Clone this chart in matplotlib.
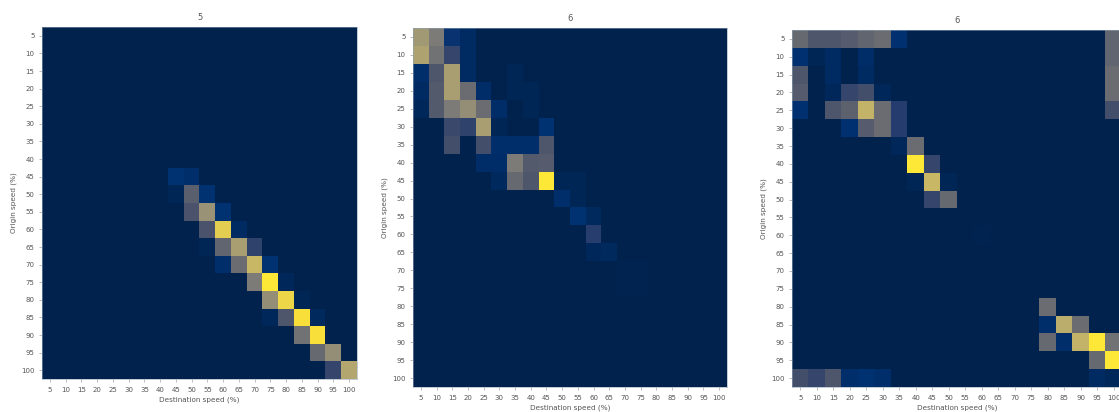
import matplotlib
matplotlib.use("Agg")
import matplotlib.pyplot as plt
import numpy as np

speed_labels = [str(v) for v in [5, 10, 15, 20, 25, 30, 35, 40, 45, 50, 55, 60, 65, 70, 75, 80, 85, 90, 95, 100]]
panel_titles = ["5", "6", "6"]
x_title = "Destination speed (%)"
y_title = "Origin speed (%)"

# Rows = origin speed, columns = destination speed.
cells_left = [
    # origin index, destination index, share
    (8, 8, .09), (8, 9, .07),
    (9, 8, .02), (9, 9, .35), (9, 10, .09),
    (10, 9, .28), (10, 10, .62), (10, 11, .09),
    (11, 10, .28), (11, 11, .90), (11, 12, .05),
    (12, 10, .02), (12, 11, .38), (12, 12, .68), (12, 13, .18),
    (13, 11, .07), (13, 12, .42), (13, 13, .80), (13, 14, .09),
    (14, 13, .50), (14, 14, 1.0), (14, 15, .03),
    (15, 14, .60), (15, 15, .93), (15, 16, .02),
    (16, 14, .03), (16, 15, .30), (16, 16, .97), (16, 17, .04),
    (17, 16, .45), (17, 17, .97),
    (18, 17, .40), (18, 18, .60),
    (19, 18, .20), (19, 19, .72),
]
cells_middle = [
    (0, 0, .65), (0, 1, .50), (0, 2, .10), (0, 3, .05),
    (1, 0, .70), (1, 1, .45), (1, 2, .20), (1, 3, .05),
    (2, 0, .07), (2, 1, .30), (2, 2, .68), (2, 3, .05), (2, 6, .02),
    (3, 0, .05), (3, 1, .32), (3, 2, .68), (3, 3, .42), (3, 4, .06), (3, 6, .02), (3, 7, .02),
    (4, 0, .03), (4, 1, .32), (4, 2, .50), (4, 3, .60), (4, 4, .42), (4, 5, .06), (4, 7, .02),
    (5, 2, .22), (5, 3, .18), (5, 4, .68), (5, 5, .02), (5, 8, .09),
    (6, 2, .25), (6, 4, .25), (6, 5, .07), (6, 6, .07), (6, 7, .07), (6, 8, .30),
    (7, 4, .06), (7, 5, .06), (7, 6, .50), (7, 7, .32), (7, 8, .33),
    (8, 5, .04), (8, 6, .40), (8, 7, .30), (8, 8, 1.0), (8, 9, .02), (8, 10, .02),
    (9, 9, .07), (9, 10, .02),
    (10, 10, .09), (10, 11, .04),
    (11, 11, .16),
    (12, 11, .03), (12, 12, .04),
    (13, 13, .01), (13, 14, .01),
    (14, 13, .01), (14, 14, .01),
]
cells_right = [
    (0, 0, .40), (0, 1, .30), (0, 2, .30), (0, 3, .33), (0, 4, .38), (0, 5, .42), (0, 6, .08), (0, 19, .38),
    (1, 0, .08), (1, 1, .02), (1, 2, .05), (1, 4, .06), (1, 19, .38),
    (2, 0, .30), (2, 2, .05), (2, 4, .05), (2, 19, .42),
    (3, 0, .33), (3, 2, .03), (3, 3, .20), (3, 4, .25), (3, 5, .03), (3, 19, .42),
    (4, 0, .08), (4, 2, .30), (4, 3, .36), (4, 4, .78), (4, 5, .42), (4, 6, .15), (4, 19, .25),
    (5, 3, .08), (5, 4, .33), (5, 5, .42), (5, 6, .15),
    (6, 6, .03), (6, 7, .42),
    (7, 7, 1.0), (7, 8, .20),
    (8, 7, .02), (8, 8, .80), (8, 9, .02),
    (9, 8, .20), (9, 9, .40),
    (11, 11, .01),
    (15, 15, .42),
    (16, 15, .07), (16, 16, .75), (16, 17, .42),
    (17, 15, .40), (17, 16, .07), (17, 17, .78), (17, 18, 1.0), (17, 19, .45),
    (18, 18, .40), (18, 19, 1.0),
    (19, 0, .25), (19, 1, .20), (19, 2, .30), (19, 3, .07), (19, 4, .09), (19, 5, .07), (19, 18, .05), (19, 19, .03),
]

W, H = 1119, 412
fig = plt.figure(figsize=(W / 100, H / 100), dpi=100)
plt.rcParams["font.family"] = "DejaVu Sans"

boxes = [(42, 27, 357, 379), (413, 28, 727, 387), (792, 30, 1122, 387)]
TEXT = "#555555"

for (x0, y0, x1, y1), cells, title in zip(boxes, [cells_left, cells_middle, cells_right], panel_titles):
    ax = fig.add_axes([x0 / W, 1 - y1 / H, (x1 - x0) / W, (y1 - y0) / H])
    grid = np.zeros((len(speed_labels), len(speed_labels)))
    for r, c, v in cells:
        grid[r, c] = v
    ax.imshow(grid, cmap="cividis", vmin=0, vmax=1, aspect="auto", interpolation="nearest")
    ax.set_xticks(range(len(speed_labels)), speed_labels)
    ax.set_yticks(range(len(speed_labels)), speed_labels)
    ax.tick_params(labelsize=5, length=2, width=0.4, color="#888888", labelcolor=TEXT, pad=3.5)
    ax.set_xlabel(x_title, fontsize=5.2, color=TEXT, labelpad=3)
    ax.set_ylabel(y_title, fontsize=5.2, color=TEXT, labelpad=3)
    ax.set_title(title, fontsize=6, color=TEXT, pad=5)
    for s in ax.spines.values():
        s.set_linewidth(0.4)
        s.set_color("#8fa3b5")

fig.savefig("out.png", dpi=100)
